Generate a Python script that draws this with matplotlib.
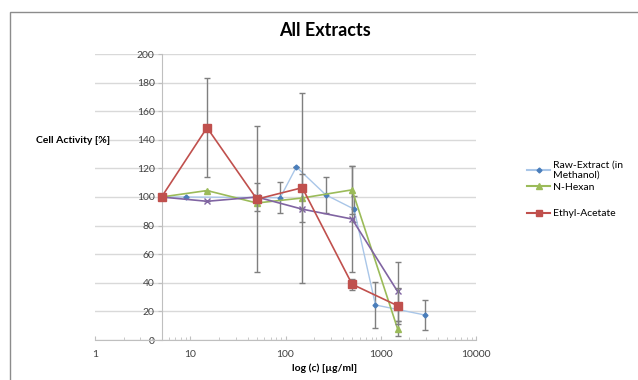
import matplotlib
matplotlib.use("Agg")
import matplotlib.pyplot as plt
from matplotlib.patches import Rectangle

plt.rcParams['font.family'] = ['Lato', 'DejaVu Sans']

# concentrations [ug/ml] and cell activity [%]
raw_x = [5, 9, 88, 130, 265, 525, 880, 2900]
raw_y = [100, 100, 99.5, 121, 101.5, 91.5, 24.5, 17.5]
raw_err = [0, 0, 11, 0, 12.5, 9, 16.3, 10.3]

hex_x = [5, 15, 50, 150, 500, 1500]
hex_y = [100, 104.5, 95.8, 99.3, 105, 8]
hex_err = [0, 0, 0, 17, 17, 5]

eth_x = [5, 15, 50, 150, 500, 1500]
eth_y = [100, 148.5, 98.5, 106.5, 39, 24]
eth_err = [0, 34.5, 51, 66.5, 4, 12.5]

pur_x = [5, 15, 50, 150, 500, 1500]
pur_y = [100, 97, 100, 91.5, 84.6, 34]
pur_err = [0, 0, 10, 0, 37.2, 20.5]

x_ticks = [1, 10, 100, 1000, 10000]
y_ticks = list(range(0, 201, 20))

fig = plt.figure(figsize=(6.38, 3.80), dpi=100)
fig.patches.append(Rectangle((10 / 638, -0.02), 1.05, (380 - 12) / 380 + 0.02,
                             transform=fig.transFigure, fill=False,
                             edgecolor='#8c8c8c', linewidth=1))

ax = fig.add_axes([95 / 638, 40 / 380, (476 - 95) / 638, (340 - 54) / 380])
ax.set_xscale('log')
ax.set_xlim(1, 10000)
ax.set_ylim(0, 200)
ax.set_xticks(x_ticks)
ax.set_xticklabels([str(v) for v in x_ticks])
ax.set_yticks(y_ticks)

ebar = dict(ecolor='#7f7f7f', elinewidth=1, capsize=2, capthick=1)

ax.errorbar(raw_x, raw_y, yerr=raw_err, color='#a9c6e8', lw=1, marker='D',
            ms=2.5, mfc='#4a7ebb', mec='#4a7ebb', zorder=3, **ebar)
ax.errorbar(hex_x, hex_y, yerr=hex_err, color='#9bbb59', lw=1.2, marker='^',
            ms=5, zorder=4, **ebar)
ax.errorbar(eth_x, eth_y, yerr=eth_err, color='#c0504d', lw=1.2, marker='s',
            ms=5.5, zorder=5, **ebar)
ax.errorbar(pur_x, pur_y, yerr=pur_err, color='#8064a2', lw=1.2, marker='x',
            ms=4.5, mew=1, zorder=4, **ebar)

ax.yaxis.grid(True, color='#d9d9d9', lw=1)
ax.set_axisbelow(True)
for s in ['top', 'right']:
    ax.spines[s].set_visible(False)
ax.spines['left'].set_position(('data', 5))
ax.spines['left'].set_color('#bfbfbf')
ax.spines['bottom'].set_color('#bfbfbf')
ax.tick_params(axis='both', labelsize=7.5, colors='#404040', length=3, width=0.8)
ax.tick_params(axis='x', which='both', direction='in', color='#bfbfbf')
ax.tick_params(axis='x', which='minor', length=2)
ax.tick_params(axis='y', color='#bfbfbf', pad=2)
ax.tick_params(axis='x', pad=7)

fig.text(325 / 638, 1 - 31 / 380, 'All Extracts', ha='center', va='center',
         fontsize=13, fontweight='bold')
fig.text(73 / 638, 1 - 141 / 380, 'Cell Activity [%]', ha='center', va='center',
         fontsize=7.5, fontweight='bold')
fig.text(325 / 638, 1 - 368 / 380, 'log (c) [\u00b5g/ml]', ha='center', va='center',
         fontsize=7.5, fontweight='bold')

h1, = ax.plot([], [], color='#a9c6e8', marker='D', ms=2.5, mfc='#4a7ebb', mec='#4a7ebb')
h2, = ax.plot([], [], color='#9bbb59', marker='^', ms=5)
h3, = ax.plot([], [], color='#c0504d', marker='s', ms=5)
leg_kw = dict(loc='upper left', frameon=False, fontsize=7.5, handlelength=2.2,
              labelspacing=0.3, handletextpad=0.3, borderpad=0)
leg1 = fig.legend([h1, h2], ['Raw-Extract (in\nMethanol)', 'N-Hexan'],
                  bbox_to_anchor=(522 / 638, 1 - 155 / 380), **leg_kw)
fig.legend([h3], ['Ethyl-Acetate'], bbox_to_anchor=(522 / 638, 1 - 204 / 380), **leg_kw)

fig.savefig('out.png', dpi=100)
